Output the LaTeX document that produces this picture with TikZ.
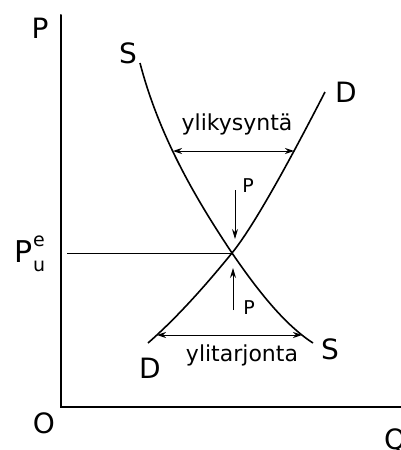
\documentclass[tikz,border=0pt]{standalone}
\usepackage{fontspec}
\setmainfont{DejaVu Sans}
\usetikzlibrary{arrows.meta}
\begin{document}
\begin{tikzpicture}[x=1pt,y=-1pt,
  axis/.style={line width=2pt,line cap=round},
  curve/.style={line width=1.6pt},
  guide/.style={line width=0.9pt},
  dbl/.style={line width=1pt,{Stealth[length=9pt,width=6pt]}-{Stealth[length=9pt,width=6pt]}},
  push/.style={line width=1pt,-{Stealth[length=10pt,width=6pt]}},
  big/.style={font=\fontsize{28}{30}\selectfont,inner sep=0pt},
  small/.style={font=\fontsize{19}{21}\selectfont,inner sep=0pt},
  word/.style={font=\fontsize{22}{24}\selectfont,inner sep=0pt}]
\useasboundingbox (0,0) rectangle (401,450);
% axes
\coordinate (ytop) at (61,15);
\coordinate (orig) at (61,407);
\coordinate (xend) at (405,407);
\draw[axis] (ytop) -- (orig) -- (xend);
\node[big] (lp) at (40,28) {P};
\node[big] (lo) at (44,423) {O};
\node[big,anchor=west] (lq) at (384,441) {Q};
% equilibrium
\coordinate (eq) at (232,253);
\coordinate (hl) at (67,253);
\draw[guide] (hl) -- (eq);
\node[inner sep=0pt] (lpe) at (30,254) {\fontsize{30}{32}\selectfont P\rlap{\raisebox{0.55em}{\fontsize{19}{20}\selectfont e}}\raisebox{-0.3em}{\fontsize{19}{20}\selectfont u}};
% supply curve
\coordinate (stop) at (140,63);
\coordinate (sbot) at (313,343);
\draw[curve] (stop) .. controls (160,140) and (200,205) .. (eq)
  .. controls (258,291) and (285,325) .. (sbot);
% demand curve
\coordinate (dbot) at (148,343);
\coordinate (dtop) at (325,92);
\draw[curve] (dbot) .. controls (180,315) and (210,280) .. (eq)
  .. controls (254,226) and (290,160) .. (dtop);
\node[big] (s1) at (128,53) {S};
\node[big] (d1) at (346,92) {D};
\node[big] (s2) at (330,349) {S};
\node[big] (d2) at (150,368) {D};
% excess demand
\coordinate (ea) at (173,151);
\coordinate (eb) at (294,151);
\draw[dbl] (ea) -- (eb);
\node[word] (ed) at (237,124) {ylikysyntä};
% excess supply
\coordinate (sa) at (157,335);
\coordinate (sb) at (302,335);
\draw[dbl] (sa) -- (sb);
\node[word] (es) at (242,355) {ylitarjonta};
% price pushes
\coordinate (pa) at (235,190);
\coordinate (pb) at (235,239);
\draw[push] (pa) -- (pb);
\node[small] (p1) at (248,186) {P};
\coordinate (pc) at (233,310);
\coordinate (pd) at (233,268);
\draw[push] (pc) -- (pd);
\node[small] (p2) at (249,308) {P};
\end{tikzpicture}
\end{document}
